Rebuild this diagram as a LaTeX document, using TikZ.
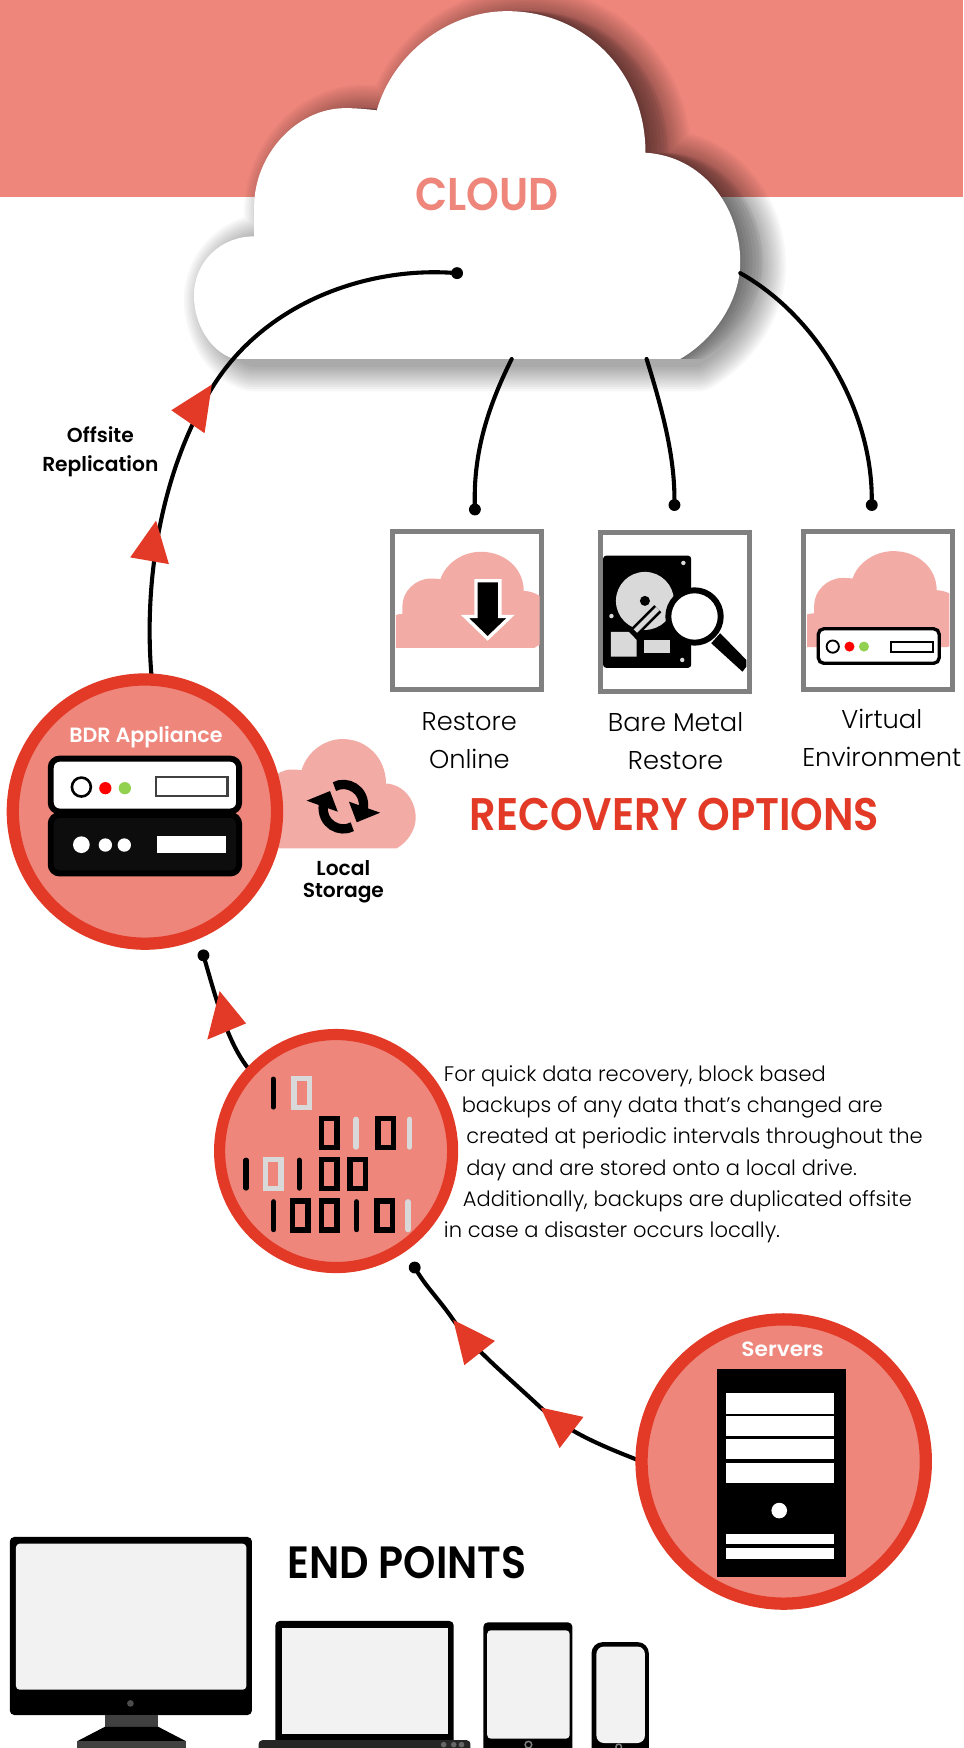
\documentclass[tikz,border=0pt]{standalone}
\usepackage{fontspec}
\setmainfont{Poppins}
\newfontfamily\lightf{Poppins Light}
\newfontfamily\medf{Poppins Medium}
\newfontfamily\boldf{Poppins SemiBold}
\definecolor{band}{HTML}{EE867B}
\definecolor{ring}{HTML}{E23A26}
\definecolor{soft}{HTML}{F3ABA5}
\definecolor{boxgray}{HTML}{808080}
\definecolor{scr}{HTML}{F2F2F2}
\definecolor{disk}{HTML}{D9D9D9}
\definecolor{leda}{HTML}{92D050}
\pgfdeclarelayer{back}
\pgfsetlayers{back,main}
\newcommand\cloudshape{(210,322) .. controls (188,315) and (174,290) .. (174,265) .. controls (174,235) and (198,212) .. (228,212) -- (228,185) .. controls (228,140) and (265,97) .. (310,97) .. controls (320,97) and (330,98) .. (338,99) .. controls (352,50) and (400,10) .. (455,10) .. controls (525,10) and (579,65) .. (579,137) .. controls (630,140) and (664,185) .. (664,235) .. controls (664,270) and (640,305) .. (610,322) -- cycle}
\tikzset{
  x=0.03cm,y=-0.03cm,
  wire/.style={draw=black,line width=1.1mm,line cap=round},
  dotend/.style={circle,fill=black,inner sep=0pt,minimum size=0.32cm,outer sep=0pt},
  redtri/.style={fill=ring,draw=none},
  ringnode/.style={circle,draw=ring,fill=band,inner sep=0pt,outer sep=0pt},
  iconbox/.style={draw=boxgray,line width=1.35mm,fill=white},
  lighttext/.style={font=\lightf\fontsize{19.7}{19.7}\selectfont,inner sep=0pt,text=black},
  para/.style={font=\lightf\fontsize{16.1}{16.1}\selectfont,inner sep=0pt,anchor=base west,text=black},
  caplabel/.style={font=\boldf\fontsize{15.5}{15.5}\selectfont,inner sep=0pt,text=black},
  whitelabel/.style={font=\boldf\fontsize{15.8}{15.8}\selectfont,inner sep=0pt,text=white},
  bigtitle/.style={font=\boldf\fontsize{31.5}{31.5}\selectfont,inner sep=0pt},
  devblack/.style={fill=black,draw=none,rounded corners=0.12cm},
  devscreen/.style={fill=scr,draw=none,rounded corners=0.1cm},
}
\newcommand\binI[3]{\draw[#3,line width=0.14cm,line cap=round] (#1,#2+3) -- (#1,#2+28);}
\newcommand\binO[3]{\draw[#3,line width=0.15cm] (#1+2.5,#2+2.5) rectangle (#1+16.5,#2+28.5);}
\begin{document}
\begin{tikzpicture}
\useasboundingbox (0,0) rectangle (864,1568);
\clip (0,0) rectangle (864,1568);
% nodes used by connectors
\node[ringnode,line width=0.33cm,minimum size=7.11cm] (bdr) at (130,728) {};
\node[ringnode,line width=0.30cm,minimum size=6.27cm] (bin) at (301.5,1032.5) {};
\node[ringnode,line width=0.33cm,minimum size=7.65cm] (srv) at (703,1311) {};
\node[dotend] (dOff) at (410,245) {};
\node[dotend] (dA) at (426,457) {};
\node[dotend] (dB) at (605,453) {};
\node[dotend] (dC) at (782,453) {};
\node[dotend] (dBdr) at (182.5,857) {};
\node[dotend] (dBin) at (372,1137) {};
\coordinate (cA) at (459,322);
\coordinate (cB) at (580,322);
\coordinate (cC) at (664,245);
\coordinate (cOff) at (192,345);
\coordinate (cS1) at (485,1262.6);
\coordinate (cS2) at (406.6,1184);
\begin{pgfonlayer}{back}
\fill[white] (0,0) rectangle (864,1568);
\fill[band] (0,0) rectangle (864,177);
% cloud shadow
\begin{scope}[shift={(16,4)}]
\foreach \w in {50,46,...,4}{
  \begin{scope}[transparency group,opacity=0.032]
  \path[draw=black,fill=black,line width=\w*0.03cm,line join=round] \cloudshape;
  \end{scope}
}
\end{scope}
\foreach \s in {2,5,...,20}{
  \begin{scope}[shift={(\s,0)}]
  \fill[black,fill opacity=0.05] \cloudshape;
  \end{scope}
}
\fill[white] \cloudshape;
\draw[wire] (cA) .. controls (435,370) and (425,410) .. (dA);
\draw[wire] (cB) .. controls (595,370) and (605,410) .. (dB);
\draw[wire] (cC) .. controls (735,285) and (782,370) .. (dC);
\draw[wire] (bdr.87) .. controls (128,520) and (145,420) .. (cOff) .. controls (240,270) and (330,240) .. (dOff);
\draw[wire] (bin.137) .. controls (205,938) and (195,900) .. (dBdr);
\draw[wire] (srv.west) .. controls (540,1297) and (510,1285) .. (cS1) .. controls (450,1230) and (425,1210) .. (cS2) .. controls (395,1167) and (383,1155) .. (dBin);
% local storage cloud
\begin{scope}[shift={(164.4,659.8)},scale=0.314]
\fill[soft] \cloudshape;
\end{scope}
\end{pgfonlayer}
\node[font=\boldf\fontsize{32}{32}\selectfont,text=band,inner sep=0pt] (cloudlbl) at (437,174) {\scalebox{1}[1.1]{CLOUD}};
% red triangles
\fill[redtri] (190,345) -- (153.7,368) -- (183.5,388.6) -- cycle;
\fill[redtri] (140,467) -- (116.8,500) -- (151.5,506) -- cycle;
\fill[redtri] (197,889) -- (186,932.5) -- (220.7,918) -- cycle;
\fill[redtri] (406.6,1184) -- (444,1202.8) -- (416.5,1224.6) -- cycle;
\fill[redtri] (485,1262.6) -- (523.4,1271) -- (502,1299) -- cycle;
% labels
\node[caplabel] (offa) at (90,390) {Offsite};
\node[caplabel] (offb) at (90,418) {Replication};
\node[caplabel] (loca) at (308,779) {Local};
\node[caplabel] (locb) at (308,801) {Storage};
\node[whitelabel] (bdrl) at (131,661) {BDR Appliance};
\node[whitelabel] (srvl) at (702,1210) {\scalebox{1.05}[1]{Servers}};
% icon boxes
\draw[iconbox] (352.5,476.5) rectangle (486,618.5);
\draw[iconbox] (538.5,478) rectangle (672,620);
\draw[iconbox] (721,476.5) rectangle (854,618.5);
% box 1 cloud
\begin{scope}
\clip (355,479) rectangle (484,616);
\begin{scope}[shift={(290.3,492.2)},xscale=0.31,yscale=0.276]
\fill[soft] \cloudshape;
\end{scope}
\end{scope}
\path[fill=black,draw=white,line width=0.09cm,miter limit=10] (427,521) -- (448.4,521) -- (448.4,553) -- (458,553) -- (437.4,572.7) -- (417,553) -- (427,553) -- cycle;
% box 3 cloud
\begin{scope}
\clip (724,479) rectangle (851.5,616);
\begin{scope}[shift={(659,491.6)},xscale=0.313,yscale=0.276]
\fill[soft] \cloudshape;
\end{scope}
\end{scope}
\draw[fill=white,draw=black,line width=0.09cm,rounded corners=0.15cm] (734,564) rectangle (842.5,595);
\draw[fill=white,draw=black,line width=0.05cm] (747,580) circle (5.5);
\fill[red] (762,580) circle (4.5);
\fill[leda] (775,580) circle (4.5);
\draw[fill=white,draw=black,line width=0.05cm] (799,575.5) rectangle (837,584.5);
% hdd
\fill[black,rounded corners=0.08cm] (541,498.5) rectangle (620,599);
\fill[disk] (578.5,539) circle (26);
\fill[black] (578.5,539) circle (4.5);
\draw[black,line width=0.27cm] (570,566) -- (590,546);
\draw[disk,line width=0.13cm] (570,566) -- (590,546);
\fill[disk] (548,566.7) -- (564,566.7) -- (571,574) -- (571,589) -- (548,589) -- cycle;
\fill[disk] (578,574) rectangle (601,585.5);
\fill[disk] (613,505) circle (2);
\fill[disk] (548.5,552.6) circle (2);
\fill[disk] (612,592) circle (2);
\fill[black] (638,577) -- (646,568) -- (669.5,592) -- (669.5,598) -- (666,602.5) -- cycle;
\draw[fill=white,draw=black,line width=0.16cm] (623,553) circle (23.5);
% box captions
\node[lighttext] (ra) at (421,647) {Restore};
\node[lighttext] (rb) at (421,681) {Online};
\node[lighttext] (ma) at (606,648) {Bare Metal};
\node[lighttext] (mb) at (606,682) {Restore};
\node[lighttext] (va) at (791,645) {Virtual};
\node[lighttext] (vb) at (791,679) {Environment};
\node[font=\boldf\fontsize{31.8}{31.8}\selectfont,text=ring,inner sep=0pt] (rec) at (605,731) {\scalebox{1}[1.1]{RECOVERY OPTIONS}};
% BDR appliance
\draw[fill=white,draw=black,line width=0.16cm,rounded corners=0.24cm] (45.5,680.5) rectangle (214.5,728);
\draw[fill=black!95,draw=black,line width=0.16cm,rounded corners=0.24cm] (45.5,731) rectangle (214.5,783.5);
\draw[fill=white,draw=black,line width=0.07cm] (73,706) circle (8.5);
\fill[red] (94.5,707) circle (5.5);
\fill[leda] (112,707) circle (5.5);
\draw[fill=white,draw=black!75,line width=0.07cm] (140,697) rectangle (204,714);
\fill[white] (73,757.7) circle (7.5);
\fill[white] (94.5,758) circle (6);
\fill[white] (111.5,758) circle (6);
\fill[white] (141,750) rectangle (203,765);
% recycle icon
\begin{scope}[shift={(308,723.6)}]
\foreach \r in {0,180}{
\begin{scope}[rotate=\r]
\draw[black,line width=0.25cm] (-8,-18) .. controls (3,-24) and (20,-16) .. (18,2);
\fill[black] (5,-4.5) -- (33,5.4) -- (12,14) -- cycle;
\end{scope}}
\end{scope}
% binary icon
\binI{245}{965}{black}
\binO{261}{965}{disk}
\binO{286}{1001}{black}
\binI{319.4}{1001}{disk}
\binO{336.5}{1001}{black}
\binI{367.4}{1001}{disk}
\binI{220.7}{1037.7}{black}
\binO{235.5}{1037.7}{disk}
\binI{268.3}{1037.7}{black}
\binO{286}{1037.7}{black}
\binO{311.3}{1037.7}{black}
\binI{245.4}{1075}{black}
\binO{259.7}{1075}{black}
\binO{286}{1075}{black}
\binI{319.9}{1075}{black}
\binO{335.5}{1075}{black}
\binI{366}{1075}{disk}
% paragraph
\node[para] (p1) at (398,970) {For quick data recovery, block based};
\node[para] (p2) at (414,998) {backups of any data that’s changed are};
\node[para] (p3) at (418,1026) {created at periodic intervals throughout the};
\node[para] (p4) at (418,1054) {day and are stored onto a local drive.};
\node[para] (p5) at (415,1082) {Additionally, backups are duplicated offsite};
\node[para] (p6) at (398,1110) {in case a disaster occurs locally.};
% server tower
\fill[black] (643,1228) rectangle (759,1414.5);
\fill[white] (651,1249.5) rectangle (748.5,1268);
\fill[white] (651,1270.5) rectangle (748.5,1288.5);
\fill[white] (651,1291) rectangle (748.5,1309);
\fill[white] (651,1312) rectangle (748.5,1330);
\fill[white] (699,1355) circle (7);
\fill[white] (651,1376) rectangle (748.5,1385);
\fill[white] (651,1389) rectangle (748.5,1398);
% end points
\node[bigtitle,text=black] (endp) at (365,1402) {\scalebox{1}[1.1]{END POINTS}};
\fill[devblack] (8.8,1378.7) rectangle (226,1538.4);
\fill[devscreen] (14.3,1384.7) rectangle (221,1515.7);
\fill[black!70] (117,1528) circle (3);
\fill[black!75] (94,1538) rectangle (142,1549);
\fill[black] (94,1549) -- (142,1549) -- (167,1562) -- (69,1562) -- cycle;
\fill[black!75] (69,1562) rectangle (167,1570);
\fill[devblack] (247,1454) rectangle (407,1570);
\fill[scr] (253,1460) rectangle (401.6,1555);
\fill[black!85,rounded corners=0.1cm] (232,1561) rectangle (422,1575);
\foreach \x in {398,407,414}{\fill[black!60] (\x,1565) circle (2.5);}
\fill[devblack] (433.6,1455.3) rectangle (513.5,1575);
\fill[devscreen] (437,1462.4) rectangle (511,1559.6);
\draw[black!50,line width=0.04cm] (474,1565) circle (3);
\fill[black,rounded corners=0.3cm] (530.6,1473) rectangle (582,1580);
\fill[scr,rounded corners=0.2cm] (535,1477) rectangle (578.5,1563.5);
\draw[black!50,line width=0.04cm] (555,1567) circle (2.5);
\end{tikzpicture}
\end{document}
